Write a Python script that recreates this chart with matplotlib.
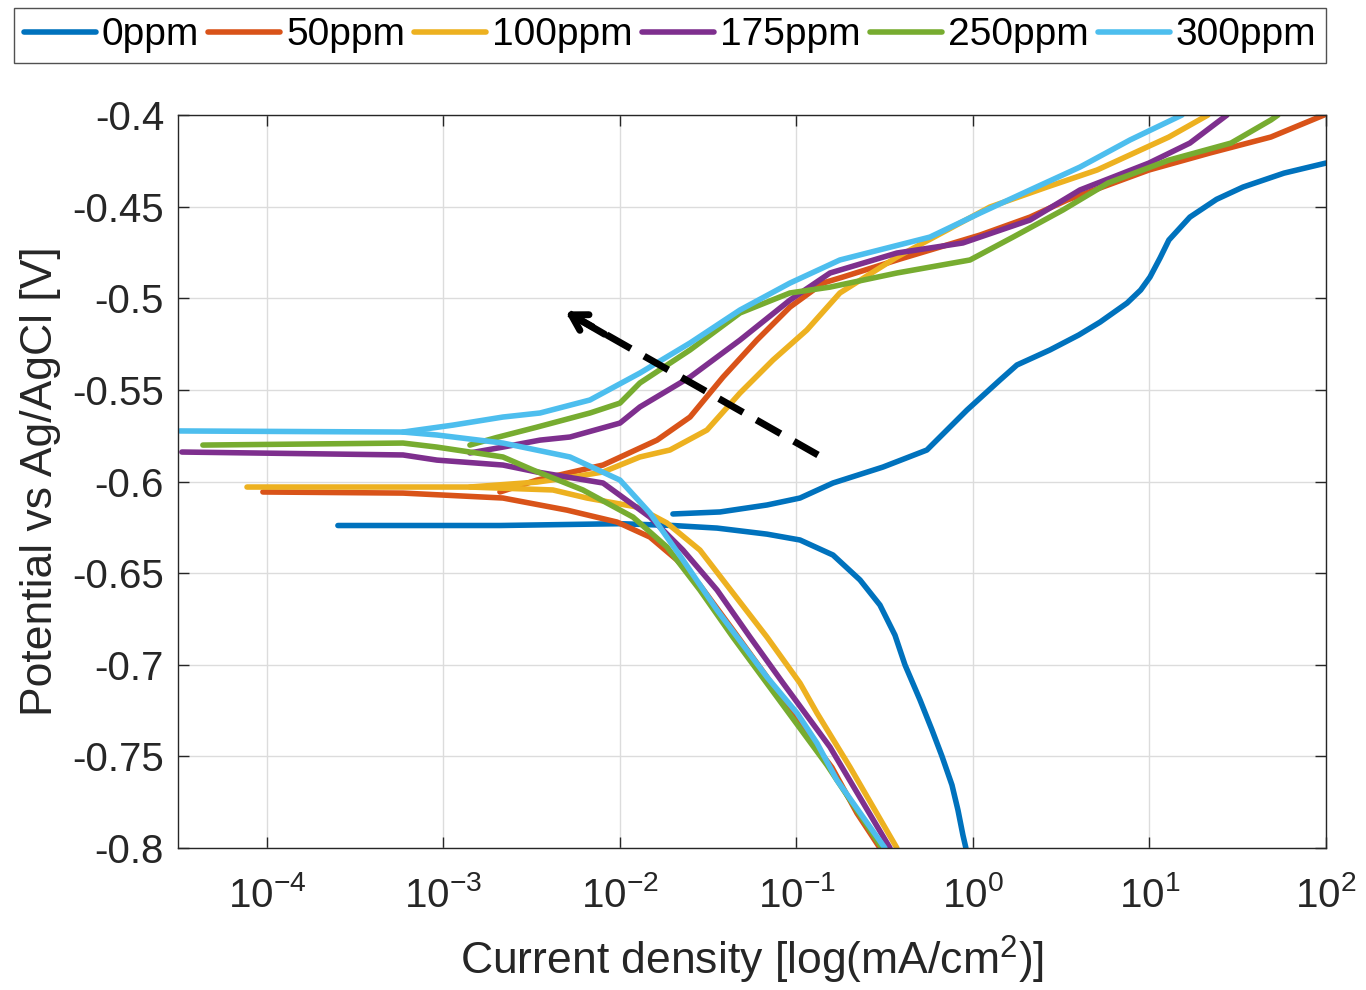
import numpy as np
import matplotlib.pyplot as plt

plt.rcParams['font.family'] = ['Liberation Sans', 'DejaVu Sans']
plt.rcParams['mathtext.fontset'] = 'custom'
plt.rcParams['mathtext.rm'] = 'Liberation Sans'
plt.rcParams['mathtext.it'] = 'Liberation Sans:italic'

labels = ['0ppm', '50ppm', '100ppm', '175ppm', '250ppm', '300ppm']
colors = ['#0072BD', '#D95319', '#EDB120', '#7E2F8E', '#77AC30', '#4DBEEE']

# log10 of current density (mA/cm2) and potential (V)
# cathodic branch: from -0.8 V up to the left end; anodic branch: from split point to top
logi_cat_0 = [-0.040, -0.057, -0.085, -0.119, -0.176, -0.232, -0.300, -0.385, -0.442, -0.527, -0.640, -0.793, -0.980, -1.167, -1.450, -1.700, -2.000, -2.680, -3.598]
E_cat_0 = [-0.800, -0.7929, -0.7793, -0.7656, -0.7498, -0.7356, -0.7192, -0.7001, -0.6838, -0.6674, -0.6537, -0.6401, -0.6319, -0.6287, -0.6254, -0.624, -0.623, -0.624, -0.624]
logi_an_0 = [-1.700, -1.433, -1.167, -0.980, -0.793, -0.510, -0.261, -0.034, 0.153, 0.249, 0.436, 0.600, 0.720, 0.873, 0.950, 1.003, 1.060, 1.110, 1.229, 1.380, 1.530, 1.762, 2.000]
E_an_0 = [-0.6177, -0.6166, -0.6128, -0.6090, -0.6008, -0.5921, -0.5828, -0.5610, -0.5446, -0.5364, -0.5282, -0.5200, -0.5130, -0.5026, -0.4955, -0.4884, -0.4780, -0.4682, -0.4557, -0.4460, -0.4393, -0.4317, -0.4262]

logi_cat_50 = [-0.527, -0.657, -0.799, -0.980, -1.167, -1.360, -1.547, -1.677, -1.830, -2.017, -2.300, -2.663, -3.229, -4.023]
E_cat_50 = [-0.800, -0.781, -0.756, -0.733, -0.7067, -0.681, -0.6565, -0.6428, -0.6303, -0.6221, -0.6156, -0.6090, -0.6063, -0.6057]
logi_an_50 = [-2.680, -2.470, -2.096, -1.790, -1.603, -1.416, -1.224, -1.037, -0.850, -0.737, -0.414, 0.040, 0.323, 0.533, 0.997, 1.343, 1.688, 1.989]
E_an_50 = [-0.6057, -0.5992, -0.5910, -0.5774, -0.5648, -0.5430, -0.5228, -0.5048, -0.4917, -0.4884, -0.4786, -0.4655, -0.4557, -0.4464, -0.4300, -0.4207, -0.4120, -0.400]

logi_cat_100 = [-0.431, -0.697, -0.884, -0.980, -1.167, -1.360, -1.547, -1.734, -1.904, -2.187, -2.380, -2.850, -4.113]
E_cat_100 = [-0.800, -0.7558, -0.7263, -0.7100, -0.6849, -0.6608, -0.6374, -0.6226, -0.6139, -0.6090, -0.6046, -0.6030, -0.6030]
logi_an_100 = [-2.850, -2.470, -2.266, -2.096, -1.887, -1.717, -1.507, -1.320, -1.133, -0.941, -0.754, -0.431, -0.147, 0.096, 0.419, 0.703, 1.110, 1.331]
E_an_100 = [-0.6030, -0.6003, -0.5975, -0.5948, -0.5866, -0.5828, -0.5719, -0.5517, -0.5337, -0.5173, -0.4971, -0.4775, -0.4628, -0.4502, -0.4393, -0.4300, -0.4120, -0.400]

logi_cat_175 = [-0.470, -0.810, -1.076, -1.263, -1.450, -1.643, -1.830, -2.096, -2.470, -2.663, -3.037, -3.229, -4.482]
E_cat_175 = [-0.800, -0.7449, -0.7100, -0.6849, -0.6592, -0.6374, -0.6194, -0.6008, -0.5948, -0.5910, -0.5883, -0.5855, -0.5839]
logi_an_175 = [-2.850, -2.663, -2.453, -2.283, -2.000, -1.887, -1.603, -1.320, -1.037, -0.810, -0.431, -0.057, 0.323, 0.606, 0.997, 1.229, 1.439]
E_an_175 = [-0.5844, -0.5812, -0.5774, -0.5757, -0.5681, -0.5593, -0.5430, -0.5228, -0.5010, -0.4862, -0.4753, -0.4698, -0.4573, -0.4409, -0.4262, -0.4153, -0.400]

logi_cat_250 = [-0.516, -0.827, -1.110, -1.360, -1.547, -1.734, -1.926, -2.210, -2.493, -2.663, -3.037, -3.229, -4.363]
E_cat_250 = [-0.800, -0.7547, -0.7176, -0.6849, -0.6592, -0.6357, -0.6194, -0.6046, -0.5937, -0.5866, -0.5812, -0.5790, -0.5801]
logi_an_250 = [-2.850, -2.700, -2.470, -2.170, -2.000, -1.887, -1.603, -1.320, -1.037, -0.810, -0.431, -0.017, 0.227, 0.510, 0.765, 1.110, 1.462, 1.688, 1.728]
E_an_250 = [-0.5801, -0.5760, -0.5703, -0.5626, -0.5572, -0.5462, -0.5282, -0.5080, -0.4971, -0.4939, -0.4862, -0.4791, -0.4666, -0.4518, -0.4371, -0.4246, -0.4153, -0.4027, -0.400]

logi_cat_300 = [-0.499, -0.771, -0.884, -0.997, -1.167, -1.450, -1.643, -1.830, -2.000, -2.283, -2.663, -3.037, -3.229, -4.493]
E_cat_300 = [-0.800, -0.7629, -0.7427, -0.7263, -0.7067, -0.6701, -0.6428, -0.6172, -0.5992, -0.5866, -0.5790, -0.5746, -0.5730, -0.5724]
logi_an_300 = [-3.229, -2.946, -2.663, -2.453, -2.170, -1.887, -1.603, -1.320, -1.037, -0.754, -0.244, 0.040, 0.323, 0.606, 0.890, 1.184]
E_an_300 = [-0.5730, -0.5692, -0.5648, -0.5626, -0.5555, -0.5408, -0.5244, -0.5064, -0.4917, -0.4791, -0.4666, -0.4535, -0.4409, -0.4284, -0.4136, -0.400]

curves = [
    (logi_cat_0, E_cat_0, logi_an_0, E_an_0),
    (logi_cat_50, E_cat_50, logi_an_50, E_an_50),
    (logi_cat_100, E_cat_100, logi_an_100, E_an_100),
    (logi_cat_175, E_cat_175, logi_an_175, E_an_175),
    (logi_cat_250, E_cat_250, logi_an_250, E_an_250),
    (logi_cat_300, E_cat_300, logi_an_300, E_an_300),
]

# trend arrow (log10 i, E)
arrow_tail = (-0.878, -0.5855)
arrow_head = (-2.323, -0.5064)

yticks = [-0.8, -0.75, -0.7, -0.65, -0.6, -0.55, -0.5, -0.45, -0.4]
xticks = [1e-4, 1e-3, 1e-2, 1e-1, 1e0, 1e1, 1e2]

fig = plt.figure(figsize=(13.66, 9.9), dpi=100)
ax = fig.add_axes([0.1303, 0.1434, 0.8404, 0.7404])

lines = []
for (lc, ec, la, ea), lab, col in zip(curves, labels, colors):
    h, = ax.plot(10 ** np.array(lc), ec, color=col, lw=4, label=lab,
                 solid_capstyle='round', solid_joinstyle='round')
    ax.plot(10 ** np.array(la), ea, color=col, lw=4,
            solid_capstyle='round', solid_joinstyle='round')
    lines.append(h)

# dashed arrow
ax.plot([10 ** arrow_tail[0], 10 ** arrow_head[0]], [arrow_tail[1], arrow_head[1]],
        color='k', lw=5, dashes=(4, 2.2), zorder=5)
ax.annotate('', xy=(10 ** arrow_head[0], arrow_head[1]),
            xytext=(10 ** (arrow_head[0] + 0.25), arrow_head[1] - 0.014),
            arrowprops=dict(arrowstyle='->,head_length=1.1,head_width=0.65', lw=5, color='k'),
            zorder=6)

ax.set_xscale('log')
ax.set_xlim(10 ** -4.504, 1e2)
ax.set_ylim(-0.8, -0.4)
ax.set_xticks(xticks)
ax.xaxis.set_minor_locator(plt.NullLocator())
ax.set_yticks(yticks)
ax.set_yticklabels(['%g' % v for v in yticks])

ax.grid(True, color='#dcdcdc', lw=1.0)
ax.set_axisbelow(True)
ax.tick_params(direction='in', length=8, width=1, top=True, right=True,
               labelsize=29, colors='#262626')
ax.tick_params(axis='x', pad=20)
ax.tick_params(axis='y', pad=10)
for s in ax.spines.values():
    s.set_color('#262626')
    s.set_linewidth(1.0)

ax.set_xlabel('Current density [log(mA/cm$^2$)]', fontsize=32, color='#262626', labelpad=14)
ax.set_ylabel('Potential vs Ag/AgCl [V]', fontsize=32, color='#262626', labelpad=8)

leg = fig.legend(handles=lines, labels=labels, ncol=6, mode='expand',
                 loc='lower left', bbox_to_anchor=(14 / 1366, 1 - 63 / 990, 1312 / 1366, 55 / 990),
                 borderaxespad=0, fontsize=28, handlelength=1.85, handletextpad=0.15,
                 columnspacing=0.3, borderpad=0.25, fancybox=False, frameon=True)
leg.get_frame().set_edgecolor('#262626')
leg.get_frame().set_linewidth(1.0)

fig.savefig('out.png', dpi=100)
